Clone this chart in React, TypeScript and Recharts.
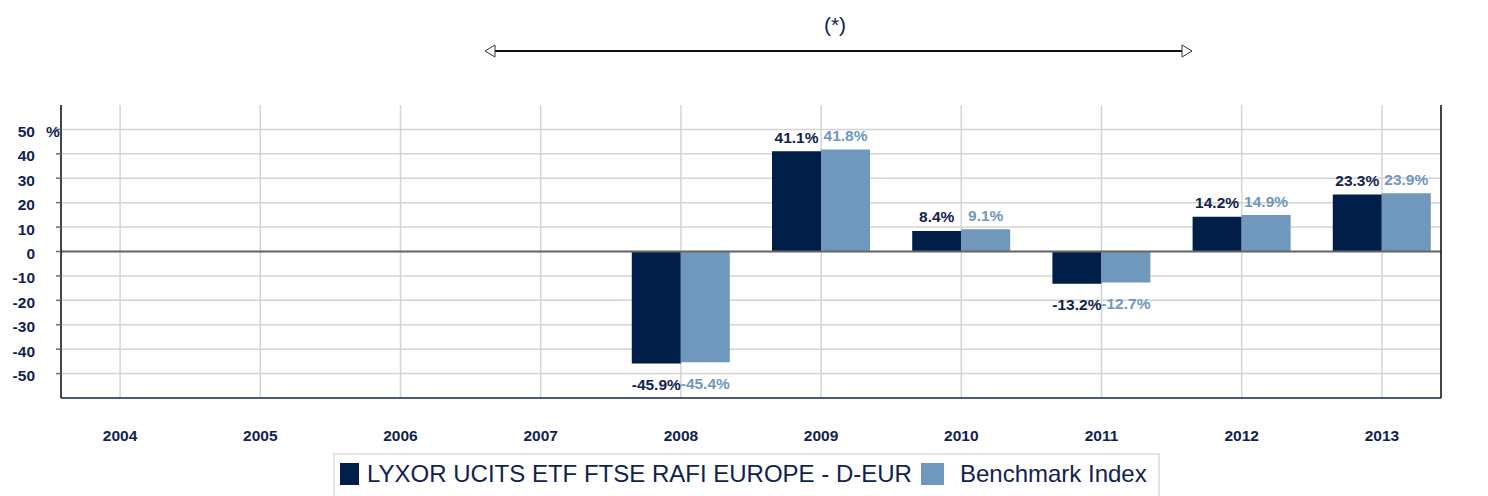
import { BarChart, Bar, XAxis, YAxis, CartesianGrid, ReferenceLine, LabelList } from "recharts";

const years = ["2004", "2005", "2006", "2007", "2008", "2009", "2010", "2011", "2012", "2013"];
const fundValues = [null, null, null, null, -45.9, 41.1, 8.4, -13.2, 14.2, 23.3];
const benchmarkValues = [null, null, null, null, -45.4, 41.8, 9.1, -12.7, 14.9, 23.9];
const yTicks = [-50, -40, -30, -20, -10, 0, 10, 20, 30, 40, 50];
const fundName = "LYXOR UCITS ETF FTSE RAFI EUROPE - D-EUR";
const benchName = "Benchmark Index";

const data = years.map((year, i) => ({ year, fund: fundValues[i], bench: benchmarkValues[i] }));

const NAVY = "#0f2350";
const DARK = "#001e47";
const LIGHT = "#7098bd";
const FONT = "Liberation Sans, Arial, sans-serif";

function LeftTick(props: any) {
  const { x, y, payload } = props;
  return (
    <g>
      <text x={x - 21} y={y} dy={7.5} textAnchor="end" fontFamily={FONT} fontWeight="bold" fontSize={15.5} fill={NAVY}>
        {payload.value}
      </text>
      {payload.value === 50 && (
        <text x={x - 10} y={y} dy={7.5} textAnchor="start" fontFamily={FONT} fontWeight="bold" fontSize={15.5} fill={NAVY}>
          %
        </text>
      )}
    </g>
  );
}

function RightTick(props: any) {
  const { x, y, payload } = props;
  return (
    <g>
      <text x={x + 19} y={y} dy={7.5} textAnchor="start" fontFamily={FONT} fontWeight="bold" fontSize={15.5} fill={NAVY}>
        {payload.value}
      </text>
      {payload.value === 50 && (
        <text x={x - 5} y={y} dy={7.5} textAnchor="start" fontFamily={FONT} fontWeight="bold" fontSize={15.5} fill={NAVY}>
          %
        </text>
      )}
    </g>
  );
}

function XTick(props: any) {
  const { x, y, payload } = props;
  return (
    <text x={x} y={y + 43} textAnchor="middle" fontFamily={FONT} fontWeight="bold" fontSize={15.5} fill={NAVY}>
      {payload.value}
    </text>
  );
}

function makeLabel(color: string) {
  return (props: any) => {
    const { x, y, width, height, value } = props;
    if (value === null || value === undefined) return null;
    const top = Math.min(y, y + height);
    const bottom = Math.max(y, y + height);
    const ty = value >= 0 ? top - 8.5 : bottom + 26.5;
    return (
      <text x={x + width / 2} y={ty} textAnchor="middle" fontFamily={FONT} fontWeight="bold" fontSize={15.5} fill={color}>
        {value.toFixed(1)}%
      </text>
    );
  };
}

export default function App() {
  return (
    <div style={{ position: "absolute", left: 0, top: 0, width: 1488, height: 496, background: "#fff", overflow: "hidden" }}>
      <svg width={1488} height={70} style={{ position: "absolute", left: 0, top: 0 }}>
        <text x={835} y={32} textAnchor="middle" fontFamily={FONT} fontSize={21} fill={NAVY}>
          (*)
        </text>
        <line x1={494} y1={51} x2={1182} y2={51} stroke="#111" strokeWidth={2} />
        <polygon points="485,51 495,45 495,57" fill="#fff" stroke="#333" strokeWidth={1} />
        <polygon points="1192,51 1182,45 1182,57" fill="#fff" stroke="#333" strokeWidth={1} />
      </svg>
      <BarChart
        width={1488}
        height={496}
        data={data}
        margin={{ top: 105, right: 0, left: 11, bottom: 58 }}
        barSize={49}
        barGap={0}
        style={{ position: "absolute", left: 0, top: 0 }}
      >
        <CartesianGrid stroke="#d4d4d4" strokeWidth={1.5} horizontalValues={yTicks} />
        <XAxis
          dataKey="year"
          height={40}
          padding={{ left: -11, right: -11 }}
          tickLine={false}
          tickSize={0}
          tickMargin={0}
          axisLine={{ stroke: NAVY, strokeWidth: 1.5 }}
          tick={<XTick />}
          interval={0}
        />
        <YAxis
          width={50}
          domain={[-60, 60]}
          ticks={yTicks}
          interval={0}
          tickSize={5}
          tickMargin={0}
          tickLine={{ stroke: "#5f6f8c", strokeWidth: 1.5 }}
          axisLine={{ stroke: "#111", strokeWidth: 1.5 }}
          tick={<LeftTick />}
        />
        <YAxis
          yAxisId="right"
          orientation="right"
          width={47}
          domain={[-60, 60]}
          ticks={yTicks}
          interval={0}
          tickSize={5}
          tickMargin={0}
          tickLine={{ stroke: "#5f6f8c", strokeWidth: 1.5 }}
          axisLine={{ stroke: "#111", strokeWidth: 1.5 }}
          tick={<RightTick />}
        />
        <ReferenceLine y={0} stroke="#666" strokeWidth={2} />
        <Bar dataKey="fund" name={fundName} fill={DARK} isAnimationActive={false}>
          <LabelList dataKey="fund" content={makeLabel(NAVY)} />
        </Bar>
        <Bar dataKey="bench" name={benchName} fill={LIGHT} isAnimationActive={false}>
          <LabelList dataKey="bench" content={makeLabel(LIGHT)} />
        </Bar>
      </BarChart>
      <div
        style={{
          position: "absolute",
          left: 333,
          top: 453,
          width: 827,
          height: 60,
          borderTop: "2px solid #e4e4e4",
          borderLeft: "2px solid #e4e4e4",
          borderRight: "2px solid #e4e4e4",
          boxSizing: "border-box",
          display: "flex",
          alignItems: "center",
          paddingLeft: 5,
          paddingBottom: 20,
          fontFamily: FONT,
          fontSize: 24,
          color: NAVY,
          whiteSpace: "nowrap",
        }}
      >
        <span style={{ display: "inline-block", width: 19, height: 22, background: DARK, marginRight: 8 }} />
        <span>{fundName}</span>
        <span style={{ display: "inline-block", width: 23, height: 22, background: LIGHT, marginLeft: 9, marginRight: 16 }} />
        <span>{benchName}</span>
      </div>
    </div>
  );
}
